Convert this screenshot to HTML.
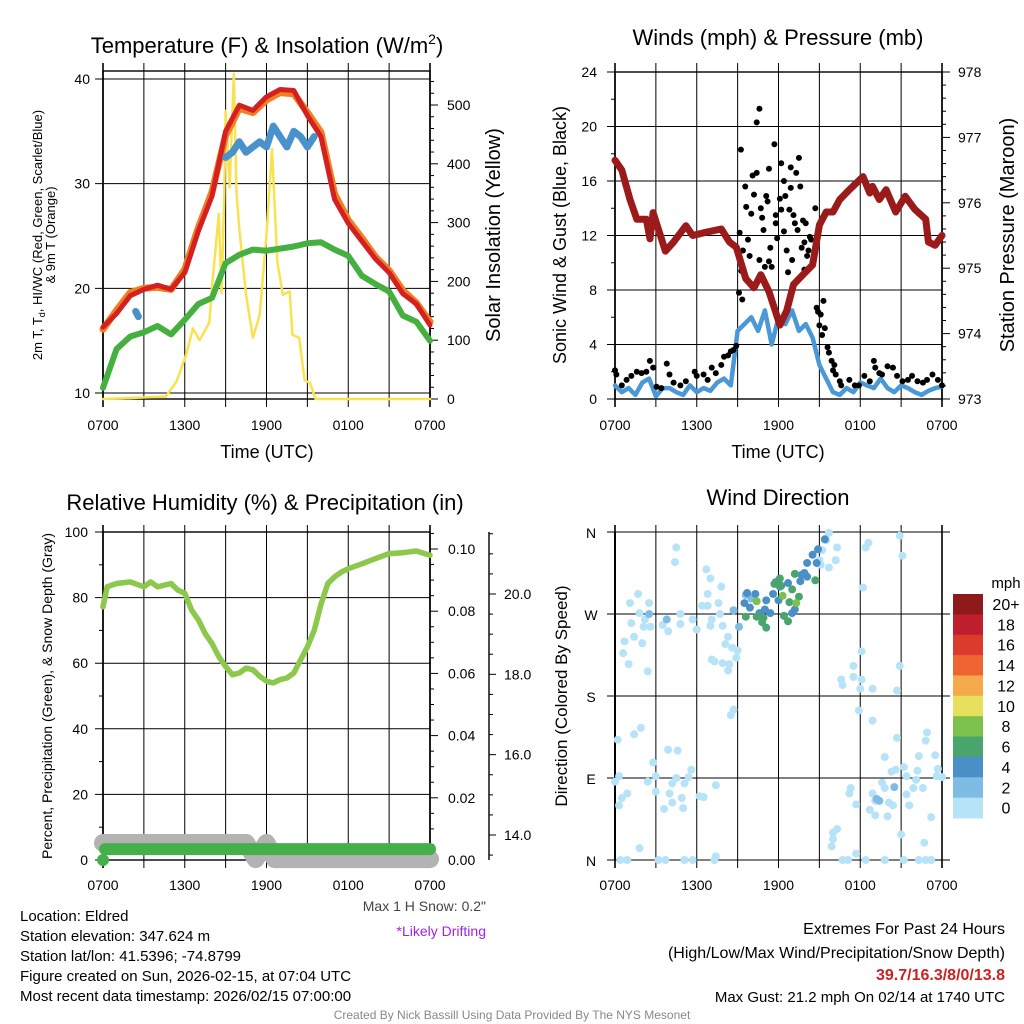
<!DOCTYPE html>
<html><head><meta charset="utf-8"><style>
html,body{margin:0;padding:0;background:#fff}
svg{display:block}
text{font-family:"Liberation Sans",Arial,sans-serif;fill:#000}
</style></head><body>
<svg id="c" width="1024" height="1024" viewBox="0 0 1024 1024" xmlns="http://www.w3.org/2000/svg"></svg>
<script>
// ---------- DATA ----------
const hours=[0,1,2,3,4,5,6,7,8,9,10,11,12,13,14,15,16,17,18,19,20,21,22,23,24];
const tempRed=[16.3,17.6,19.3,19.9,20.3,19.9,21.5,25.5,28.8,35,37.5,37,38.3,39,38.9,36.5,34.5,28.5,26.2,24.5,22.8,21.5,19.5,18.5,16.5];
const tempOrange=[16.1,17.9,19.6,20.0,20.1,19.9,21.8,25.8,29.2,34.6,37.2,36.8,38.0,38.7,38.6,36.8,34.9,29.0,26.5,24.8,23.0,21.7,19.8,18.6,16.8];
const dewGreen=[10.5,14.2,15.4,15.8,16.4,15.6,17,18.5,19.1,22.4,23.2,23.7,23.6,23.8,24,24.3,24.4,23.7,23.1,21.2,20.4,19.7,17.4,16.8,15];
const hiwcTimes=[2.4,2.6,null,9,9.5,10,10.5,11,11.5,12,12.5,13,13.5,14,14.5,15,15.5];
const hiwcVals=[17.8,17.3,null,32.5,33,34,33,33.5,34,33.5,35.5,34.5,33.5,35,34.5,33.5,34.5];
const insolTimes=[0,4.6,5.4,6.1,6.6,7.1,7.8,8.0,8.5,8.7,8.9,9.0,9.3,9.6,9.8,10.0,10.5,11.0,11.5,12.0,12.4,12.8,13.2,13.7,13.9,14.4,14.8,15.2,15.6,24];
const insolVals=[0,4,30,75,120,100,130,190,315,180,350,490,360,553,350,290,177,104,143,280,425,232,177,183,109,104,32,27,0,0];
const windHalfHours=[0,0.5,1,1.5,2,2.5,3,3.5,4,4.5,5,5.5,6,6.5,7,7.5,8,8.5,9,9.5,10,10.5,11,11.5,12,12.5,13,13.5,14,14.5,15,15.5,16,16.5,17,17.5,18,18.5,19,19.5,20,20.5,21,21.5,22,22.5,23,23.5,24];
const windSonic=[1,0.5,0.8,0.3,1.2,1.5,0.2,0.8,0.8,0.5,0.3,1,0.5,0.8,0.6,1.2,1.5,1,5,5.5,6,5,6.5,4,6,5.5,6.5,5,5.5,4.5,2.5,1.5,0.5,0.3,0.8,0.5,1.2,1,0.8,1.5,0.8,0.5,1,0.8,0.5,0.3,0.6,0.8,0.9];
const gustTimes=[0,0.1,0.5,0.85,1.2,1.6,1.95,2.3,2.56,2.8,3.05,3.4,3.8,4,4.3,4.8,5.2,5.85,6,6.5,6.8,7.1,7.4,7.8,8,8.3,8.5,8.7,8.9,9.24,9.56,9.63,9.15,9.76,9.39,9.88,9.27,9.1,9.34,10,10.1,10.4,10.2,10.4,10.6,10.7,10.8,10.6,10.9,11,11.3,11.1,11.2,11.3,11.4,11.5,11.7,11.8,11.8,11.9,12.1,12.2,12.2,12.4,12.4,12.5,12.6,12.7,12.8,12.9,12.9,13,13.1,13.2,13.3,13.4,13.5,13.6,13.7,13.8,13.9,13.9,14,14.1,14.2,14.3,14.4,14.6,14.7,14.8,14.9,15,15.1,15.2,15.3,15.4,15.6,15.7,15.9,16,16.1,16.2,16.5,16.6,17.2,17.6,17.9,18.3,18.7,19,19.1,19.4,19.6,20,20.4,20.7,21.1,21.5,21.8,22.2,22.6,22.9,23.3,23.7,24];
const gustVals=[2.1,1.8,1.0,1.4,1.7,2.0,1.9,2.0,2.8,2.3,0.9,0.8,2.6,1.8,1.2,1.0,1.3,2.0,1.7,1.8,1.4,2.3,1.9,2.5,3.1,3.2,3.5,3.6,3.9,18.3,15.6,14.1,12.2,11.7,10.9,10.5,9.4,7.8,7.3,13.6,16.4,16.6,15,20.3,21.3,14,13.3,10.2,12.4,9.7,16.9,14.9,14.5,10.1,11.1,9.7,18.7,13.5,12.9,11.8,14.7,13.9,17.3,16,12.3,14.9,10.9,9.3,13.9,17,15.5,10.2,13.5,12.9,16.6,12.4,17.7,15.6,11.1,13.1,9.5,11.5,12.9,10.5,10.9,11.9,11.7,10.3,14,6.7,6.4,5.4,6.2,4.7,7.2,5.2,3.8,3.4,2.8,2.1,2.5,1.8,1.3,1.0,1.4,1.0,1.0,1.7,1.3,2.8,2.3,1.9,1.8,2.4,2.3,1.7,1.3,1.4,1.7,1.3,1.2,1.4,1.8,1.4,1.0];
const presTimes=[0,0.5,1.1,1.6,2.3,2.57,2.8,3.7,4.3,5.2,5.7,6.7,7.8,8.4,8.9,9.6,10.2,10.7,11.3,12.1,12.6,13.1,13.8,14.5,15,15.5,16,16.5,17.2,18.2,18.7,18.9,19.4,19.9,20.6,21.3,22.0,22.8,23.0,23.5,24];
const presVals=[976.65,976.5,976.05,975.75,975.75,975.45,975.85,975.26,975.4,975.65,975.5,975.55,975.6,975.4,975.32,974.84,974.7,974.9,974.64,974.13,974.35,974.75,974.9,975.05,975.66,975.86,975.86,976.05,976.2,976.4,976.15,976.25,976.05,976.2,975.86,976.1,975.9,975.75,975.4,975.35,975.5];
const rhHalfHours=[0,0.3,1,2,3,3.5,4,5,5.5,6,6.5,7,7.5,8,8.5,9,9.5,10,10.5,11,11.5,12,12.5,13,13.5,14,14.5,15,15.5,16,16.5,17,17.5,18,19,20,21,22,23,24];
const rhVals=[77.2,83.3,84.3,84.8,83.3,84.8,83.3,84.3,82.3,81.3,76.2,73.2,69,66,62,59,56.5,57,58.5,58,56,54.5,54,55,55.5,57,61,65,70,78,84.3,86.3,87.8,88.8,90.3,91.9,93.4,93.7,94.2,92.9];
const snowTimes=[0,10.5,11.2,12,12.6,24];
const snowVals=[13.8,13.8,13.4,13.8,13.4,13.4];
const precipTimes=[0.15,24];
const precipVals=[0.0035,0.0035];
const dirTimes=[4.5,4.4,6.7,7,7.8,6.8,1.7,1.1,1.8,2.2,1.2,2.1,1.4,0.7,2,0.6,1,2.4,3.5,3.9,4.8,4.8,5.7,6,6.4,6.8,7.1,7,7.9,7.7,7.6,8.3,8.1,8.6,9,8.9,7.1,7.3,7.9,8.4,8.3,8.7,8.5,0.2,1.9,1.4,2.8,3.9,4.6,5.6,5.4,5.1,4.5,4.2,4,4.2,3.6,4.9,5,2.4,3,3,0.9,0.5,0.3,0.3,0,1.8,0.4,0.9,3.2,3.7,5.1,5.7,7.4,7.3,7.4,6.2,6.5,15.7,16.3,16.2,15.7,18.4,18.6,20.9,21.1,18.2,18.1,17.5,17.5,16.6,16.7,18.1,18,18.9,20.9,20.7,17.9,18.9,20.7,22.9,22.8,19.8,22.3,23.5,20.3,20.6,21.2,21.4,22.2,23.7,23.6,24,22.1,21.9,22.6,21.4,21.6,19.6,19.8,17.3,17.2,17.7,18.9,19.1,18.7,19.1,20,20.1,20.4,23.2,21,22.7,16.3,16,16,15.9,16.7,17.1,17.7,18.4,19.8,21.2,22.3,22.8,23.2,15.5,15.2,15,15.1,8.7,
2.5,2.6,3.8,2.5,9.1,8.7,19.2,19.4,20.5,9.6,10,10.3,9.9,10.6,11,11.1,11.4,11.6,12,11.8,12.1,12.7,13,13.2,13.6,13.9,14.1,14.5,14.8,14.9,15.4,14.1,13.7,
9.7,9.5,9.6,10.4,10.8,11.1,12.1,12.4,12.7,13.2,14.7,12.8,13.5,13,10.9,
11.7,12.2,12.3,10.4,13.3];
const dirDegrees=[343,327,319,309,300,292,292,282,271,264,260,256,245,240,238,227,215,207,258,251,270,259,264,253,279,279,264,257,257,270,282,245,237,233,230,222,220,218,216,215,208,165,159,132,145,138,107,121,120,99,91,84,90,84,73,63,56,68,57,86,92,75,73,68,60,92,86,13,0,0,0,0,0,0,4,0,82,70,69,359,343,329,321,343,348,356,334,299,229,213,201,198,192,198,188,188,213,186,164,153,134,140,131,113,114,115,97,99,102,92,98,100,92,91,88,79,79,72,60,85,79,79,73,61,73,65,55,49,48,63,60,47,28,19,34,30,23,15,0,0,7,0,0,0,0,0,0,351,340,329,324,274,
282,256,264,270,256,274,67,65,80,291,287,292,277,271,275,285,271,292,285,305,300,304,271,275,306,315,326,335,326,341,352,311,313,
293,282,267,267,261,255,309,268,262,314,307,283,289,297,266,
303,301,290,284,282];
const dirSpeeds=[].concat(Array(154).fill(1),[3,3,3,3,3,3,3,3,3,5,5,5,5,5,5,5,5,5,5,5,5,5,5,5,5,5,5,5,5,5,5,5,5],Array(15).fill(7),Array(5).fill(9));
const cbLabels=["20+","18","16","14","12","10","8","6","4","2","0"];
const cbColors=["#8e1a1c","#be1e2d","#dc3a2c","#ee6532","#f5a94a","#e6e05c","#7cc14c","#49a56d","#4a8fc6","#7fbce5","#b6e3f8"];
const timeLabels=["0700","1300","1900","0100","0700"];
const timeLabelHours=[0,6,12,18,24];

// ---------- HELPERS ----------
const S="http://www.w3.org/2000/svg";
const svg=document.getElementById('c');
function mk(tag,attrs,name,parent){
  const el=document.createElementNS(S,tag);
  for(const k in attrs) el.setAttribute(k,attrs[k]);
  
  
  (parent||svg).appendChild(el);
  return el;
}
function txt(x,y,s,size,name,opts){
  opts=opts||{};
  const a={x:x,y:y,'font-size':size,'text-anchor':opts.anchor||'middle'};
  if(opts.fill)a.fill=opts.fill;
  if(opts.weight)a['font-weight']=opts.weight;
  if(opts.rot)a.transform='rotate(-90 '+x+' '+y+')';
  const t=mk('text',a,name);
  if(opts.fill)t.style.fill=opts.fill;
  t.textContent=s;return t;
}
function line(x1,y1,x2,y2,name,w,col){return mk('line',{x1:x1,y1:y1,x2:x2,y2:y2,stroke:col||'#000','stroke-width':w||1},name);}
function lin(d0,d1,r0,r1){return v=>r0+(v-d0)*(r1-r0)/(d1-d0);}
function pathFrom(ts,vs,xf,yf){
  let d='',pen=false;
  for(let i=0;i<ts.length;i++){
    if(ts[i]==null||vs[i]==null){pen=false;continue;}
    d+=(pen?'L':'M')+xf(ts[i]).toFixed(1)+','+yf(vs[i]).toFixed(1);pen=true;
  }return d;
}
function series(ts,vs,xf,yf,col,w,name){
  return mk('path',{d:pathFrom(ts,vs,xf,yf),fill:'none',stroke:col,'stroke-width':w,'stroke-linejoin':'round','stroke-linecap':'round'},name);
}

// ================= PANEL 1: Temperature =================
{
  const X=lin(0,24,103,430), Y=lin(10,40,393,79), YI=lin(0,500,399,105);
  const tt=txt(267,53,'',22,'temp-title');
  tt.innerHTML='Temperature (F) &amp; Insolation (W/m<tspan font-size="14" dy="-9">2</tspan><tspan dy="9">)</tspan>';
  for(let i=0;i<=8;i++){const x=103+i*327/8;line(x,63,x,407,'temp-vgrid',i==0||i==8?1.6:1);}
  [10,20,30,40].forEach(v=>{line(95,Y(v),430,Y(v),'temp-hgrid');txt(90,Y(v)+5,String(v),14,'temp-y-tick',{anchor:'end'});});
  mk('rect',{x:103,y:71,width:327,height:328,fill:'none',stroke:'#000','stroke-width':1.4},'temp-frame');
  for(let v=0;v<=540;v+=20){const major=v%100==0;line(430,YI(v),major?438:434,YI(v),'insol-tick');
    if(major)txt(447,YI(v)+5,String(v),14,'insol-y-tick',{anchor:'start'});}
  [0,6,12,18,24].forEach((h,i)=>txt(X(h),430,timeLabels[i],14,'temp-x-tick'));
  txt(267,458,'Time (UTC)',18,'temp-x-title');
  const t1=txt(42,235,'',13,'temp-y-title-1',{rot:1});
  t1.innerHTML='2m T, T<tspan font-size="9" dy="3">d</tspan><tspan dy="-3">, HI/WC (Red, Green, Scarlet/Blue)</tspan>';
  txt(55,235,'& 9m T (Orange)',13,'temp-y-title-2',{rot:1});
  txt(500,235,'Solar Insolation (Yellow)',20,'insol-y-title',{rot:1});
  series(insolTimes,insolVals,X,YI,'#f9e24f',2.5,'insolation-line');
  series(hours,dewGreen,X,Y,'#45b03f',6,'dewpoint-line');
  series(hours,tempOrange,X,Y,'#f27d22',7,'temp-9m-line');
  series(hours,tempRed,X,Y,'#d42020',5,'temp-2m-line');
  series(hiwcTimes,hiwcVals,X,Y,'#4a92cc',7,'hiwc-line');
}

// ================= PANEL 2: Winds & Pressure =================
{
  const X=lin(0,24,615,942), Y=lin(0,24,399,72), YP=lin(973,978,399,72);
  txt(778,45,'Winds (mph) & Pressure (mb)',22,'wind-title');
  for(let i=0;i<=8;i++){const x=615+i*327/8;line(x,63,x,407,'wind-vgrid',i==0||i==8?1.6:1);}
  for(let v=0;v<=24;v+=4){line(607,Y(v),942,Y(v),'wind-hgrid');txt(597,Y(v)+5,String(v),14,'wind-y-tick',{anchor:'end'});}
  for(let v=0;v<=24;v+=2){line(611,Y(v),615,Y(v),'wind-minor-tick');}
  mk('rect',{x:615,y:72,width:327,height:327,fill:'none',stroke:'#000','stroke-width':1.4},'wind-frame');
  for(let k=0;k<=25;k++){const v=973+k*0.2;const major=k%5==0;line(942,YP(v),major?950:946,YP(v),'pressure-tick');
    if(major)txt(958,YP(v)+5,String(v.toFixed(0)),14,'pressure-y-tick',{anchor:'start'});}
  [0,6,12,18,24].forEach((h,i)=>txt(X(h),430,timeLabels[i],14,'wind-x-tick'));
  txt(778,458,'Time (UTC)',18,'wind-x-title');
  txt(566,235,'Sonic Wind & Gust (Blue, Black)',18,'wind-y-title',{rot:1});
  txt(1014,235,'Station Pressure (Maroon)',20,'pressure-y-title',{rot:1});
  series(windHalfHours,windSonic,X,Y,'#4a98d6',4.5,'sonic-wind-line');
  gustTimes.forEach((t,i)=>mk('circle',{cx:X(t),cy:Y(gustVals[i]),r:3,fill:'#000'},'gust-point'));
  series(presTimes,presVals,X,YP,'#9b1b1b',7,'pressure-line');
}

// ================= PANEL 3: RH & Precip =================
{
  const X=lin(0,24,103,430), Y=lin(0,100,860,532), YP=lin(0,0.1,860,549), YS=lin(14,20,835,594);
  txt(265,510,'Relative Humidity (%) & Precipitation (in)',22,'rh-title');
  for(let i=0;i<=8;i++){const x=103+i*327/8;line(x,525,x,868,'rh-vgrid',i==0||i==8?1.6:1);}
  for(let v=0;v<=100;v+=20){line(95,Y(v),430,Y(v),'rh-hgrid');txt(88,Y(v)+5,String(v),14,'rh-y-tick',{anchor:'end'});}
  for(let v=10;v<=90;v+=20){line(99,Y(v),103,Y(v),'rh-minor-tick');}
  mk('rect',{x:103,y:532,width:327,height:328,fill:'none',stroke:'#000','stroke-width':1.4},'rh-frame');
  for(let k=0;k<=21;k++){const v=k*0.005;const major=k%4==0;line(430,YP(v),major?438:434,YP(v),'precip-tick');
    if(major)txt(448,YP(v)+5,v.toFixed(2),14,'precip-y-tick',{anchor:'start'});}
  line(489,532,489,860,'snow-axis',1.4);
  for(let v=13.5;v<=21.5;v+=0.5){const y=YS(v);if(y<532||y>860)continue;const major=Math.abs(v%2)<0.01;line(489,y,major?496:493,y,'snow-tick');
    if(major)txt(504,y+5,v.toFixed(1),14,'snow-y-tick',{anchor:'start'});}
  [0,6,12,18,24].forEach((h,i)=>txt(X(h),890,timeLabels[i],14,'rh-x-tick'));
  txt(52,696,'Percent, Precipitation (Green), & Snow Depth (Gray)',14,'rh-y-title',{rot:1});
  series(snowTimes,snowVals,X,YS,'#b3b3b3',18,'snow-depth-line');
  series(rhHalfHours,rhVals,X,Y,'#8cc84b',5.5,'rh-line');
  mk('circle',{cx:X(0),cy:860,r:6,fill:'#45b04a'},'precip-start-point');
  series(precipTimes,precipVals,X,YP,'#45b04a',12,'precip-line');
}

// ================= PANEL 4: Wind Direction =================
{
  const X=lin(0,24,615,942), Y=lin(0,360,860,532);
  txt(778,505,'Wind Direction',22,'dir-title');
  for(let i=0;i<=8;i++){const x=615+i*327/8;line(x,525,x,868,'dir-vgrid',i==0||i==8?1.6:1);}
  const dl=['N','E','S','W','N'];
  [0,90,180,270,360].forEach((d,i)=>{line(607,Y(d),950,Y(d),'dir-hgrid');txt(591,Y(d)+6,dl[i],14,'dir-y-tick');});
  line(615,532,615,860,'dir-left-axis',2);
  [0,6,12,18,24].forEach((h,i)=>txt(X(h),890,timeLabels[i],14,'dir-x-tick'));
  txt(567,696,'Direction (Colored By Speed)',17,'dir-y-title',{rot:1});
  function col(s){const idx=Math.min(10,Math.floor(s/2));return cbColors[10-idx];}
  dirTimes.forEach((t,i)=>mk('circle',{cx:X(t),cy:Y(dirDegrees[i]),r:4,fill:col(dirSpeeds[i])},'dir-point'));
  txt(1006,588,'mph',15,'colorbar-title');
  cbLabels.forEach((l,i)=>{const y=594+i*224/11;
    mk('rect',{x:953,y:y,width:30,height:224/11+0.5,fill:cbColors[i]},'colorbar-box');
    txt(1006,y+16,l,16,'colorbar-label');});
}

// ================= TEXT =================
const infoLines=['Location: Eldred','Station elevation: 347.624 m','Station lat/lon: 41.5396; -74.8799','Figure created on Sun, 2026-02-15, at 07:04 UTC','Most recent data timestamp: 2026/02/15 07:00:00'];
infoLines.forEach((s,i)=>txt(20,921+i*20,s,15,'station-info-line',{anchor:'start'}));
txt(486,911,'Max 1 H Snow: 0.2"',14,'max-snow-note',{anchor:'end',fill:'#444'});
txt(486,936,'*Likely Drifting',14,'drifting-note',{anchor:'end',fill:'#a020f0'});
txt(1005,934,'Extremes For Past 24 Hours',16,'extremes-title',{anchor:'end'});
txt(1005,958,'(High/Low/Max Wind/Precipitation/Snow Depth)',16,'extremes-subtitle',{anchor:'end'});
txt(1005,980,'39.7/16.3/8/0/13.8',16,'extremes-values',{anchor:'end',fill:'#cc2222',weight:'bold'});
txt(1005,1002,'Max Gust: 21.2 mph On 02/14 at 1740 UTC',15,'max-gust',{anchor:'end'});
txt(512,1019,'Created By Nick Bassill Using Data Provided By The NYS Mesonet',12,'credit-line',{fill:'#888'});
</script>
</body></html>
